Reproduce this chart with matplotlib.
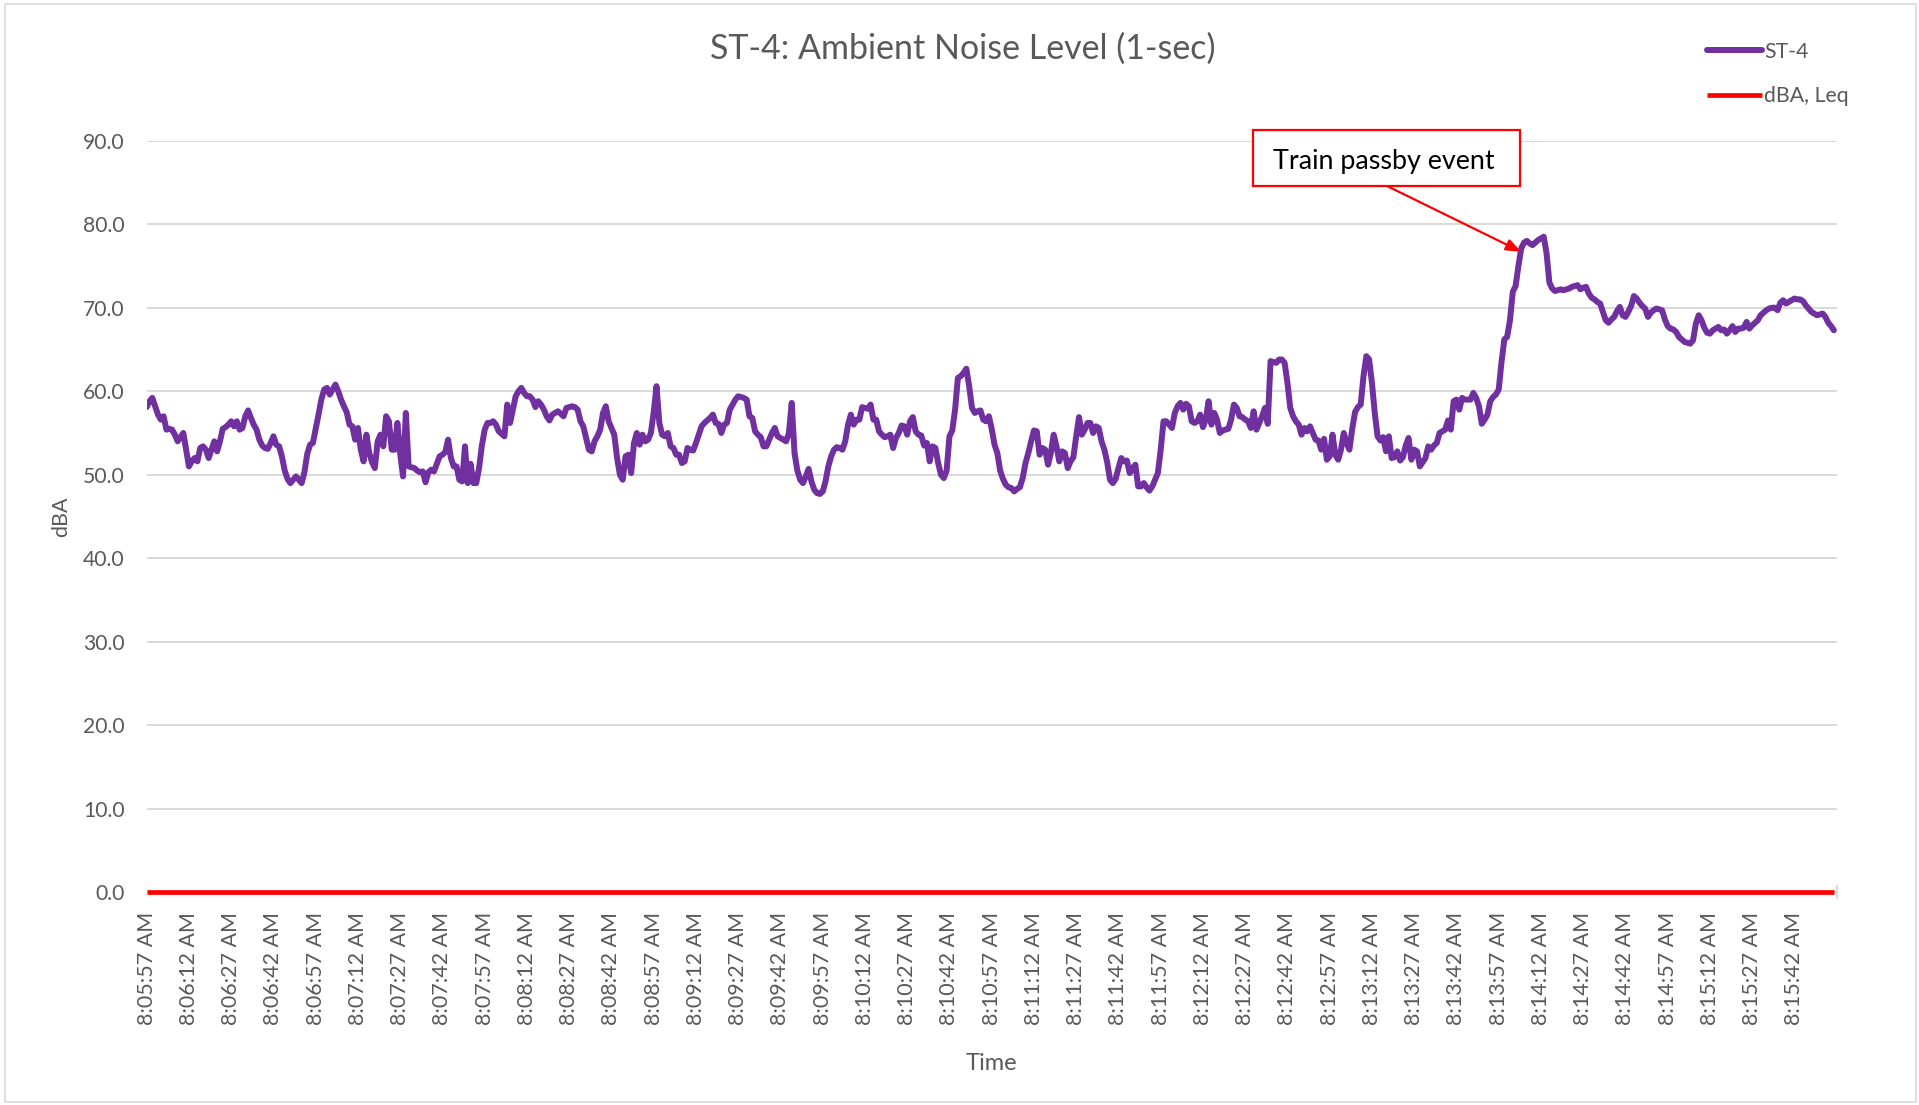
import matplotlib
matplotlib.use("Agg")
import matplotlib.pyplot as plt
from matplotlib.patches import Rectangle
import numpy as np

# ---------------- data ----------------
st4 = [
58.1, 58.8, 59.2, 58.2, 57.2, 56.6, 57.0, 55.4, 55.5, 55.4,
54.8, 54.0, 54.5, 55.0, 53.0, 51.0, 51.6, 52.0, 51.6, 53.2,
53.4, 53.0, 52.0, 53.0, 54.0, 52.8, 54.0, 55.5, 55.7, 56.0,
56.4, 55.8, 56.4, 55.4, 55.6, 57.0, 57.7, 56.8, 56.0, 55.4,
54.2, 53.5, 53.2, 53.1, 53.8, 54.6, 53.6, 53.4, 52.2, 50.5,
49.5, 49.0, 49.4, 49.8, 49.4, 49.0, 50.3, 52.5, 53.6, 53.8,
55.5, 57.2, 59.0, 60.2, 60.4, 59.6, 60.2, 60.8, 60.0, 59.0,
58.2, 57.5, 56.0, 55.8, 54.2, 55.6, 53.0, 51.6, 54.8, 52.6,
51.5, 50.8, 54.0, 54.8, 53.4, 57.0, 56.4, 53.0, 53.0, 56.2,
52.5, 49.8, 57.4, 51.0, 50.9, 50.8, 50.5, 50.3, 50.4, 49.1,
50.3, 50.6, 50.4, 51.3, 52.2, 52.4, 52.7, 54.2, 52.0, 51.0,
51.0, 49.4, 49.2, 53.4, 49.0, 51.3, 49.0, 49.0, 50.8, 53.5,
55.4, 56.2, 56.2, 56.4, 56.0, 55.2, 54.9, 54.6, 58.4, 56.2,
57.8, 59.4, 60.0, 60.4, 59.8, 59.4, 59.4, 59.0, 58.1, 58.8,
58.4, 57.8, 57.0, 56.5, 57.2, 57.4, 57.6, 57.3, 57.0, 58.0,
58.1, 58.2, 58.1, 57.8, 56.4, 55.8, 54.4, 53.0, 52.8, 54.0,
54.6, 55.4, 57.4, 58.2, 56.4, 55.6, 54.8, 52.0, 50.0, 49.4,
52.2, 52.4, 50.2, 53.8, 55.0, 53.6, 54.8, 54.0, 54.2, 55.0,
57.5, 60.6, 56.2, 54.8, 54.6, 55.0, 53.4, 53.2, 52.4, 52.4,
51.4, 51.6, 53.2, 53.0, 52.9, 53.8, 54.8, 55.8, 56.2, 56.5,
56.8, 57.2, 56.2, 56.1, 55.0, 56.0, 56.2, 57.8, 58.4, 59.0,
59.4, 59.3, 59.2, 59.0, 57.0, 56.8, 55.2, 54.8, 54.5, 53.4,
53.4, 54.2, 55.0, 55.6, 54.6, 54.4, 54.2, 54.0, 55.0, 58.6,
52.6, 50.5, 49.4, 49.0, 49.8, 50.7, 49.2, 48.2, 47.8, 47.7,
48.0, 49.2, 51.0, 52.2, 53.0, 53.3, 53.2, 53.0, 54.0, 56.0,
57.2, 56.0, 56.6, 56.6, 58.1, 58.0, 57.9, 58.4, 56.6, 56.6,
55.2, 54.8, 54.5, 54.6, 54.8, 53.2, 54.4, 55.0, 55.9, 55.8,
54.8, 56.4, 56.9, 55.2, 54.8, 54.7, 53.5, 53.8, 51.6, 53.4,
53.2, 51.4, 50.0, 49.6, 50.5, 54.6, 55.3, 57.8, 61.6, 61.8,
62.2, 62.7, 60.6, 58.0, 57.4, 57.6, 57.7, 56.6, 56.4, 57.0,
55.5, 53.6, 52.6, 50.5, 49.5, 48.8, 48.5, 48.4, 48.0, 48.3,
48.5, 49.6, 51.4, 52.6, 54.0, 55.3, 55.2, 52.4, 53.2, 53.0,
51.2, 52.6, 54.8, 53.4, 51.6, 52.8, 52.6, 50.8, 51.6, 52.1,
54.6, 56.9, 54.8, 55.4, 56.2, 56.2, 55.0, 55.8, 55.6, 54.0,
53.0, 51.5, 49.4, 49.0, 49.5, 50.8, 52.0, 51.6, 51.7, 50.2,
50.8, 51.2, 48.6, 48.6, 49.0, 48.5, 48.1, 48.6, 49.4, 50.2,
53.0, 56.4, 56.4, 56.0, 55.6, 57.4, 58.2, 58.6, 57.8, 58.5,
58.2, 56.4, 56.2, 56.4, 57.2, 55.7, 56.6, 58.8, 56.0, 57.4,
56.6, 55.0, 55.3, 55.4, 55.5, 56.6, 58.4, 58.0, 57.0, 56.9,
56.6, 56.4, 55.6, 57.6, 55.4, 56.2, 57.0, 58.0, 56.1, 63.6,
63.5, 63.4, 63.8, 63.8, 63.4, 61.0, 58.0, 57.0, 56.4, 56.0,
54.8, 55.6, 55.2, 55.8, 55.0, 54.2, 54.1, 53.0, 54.3, 51.8,
52.2, 54.8, 52.4, 51.8, 53.0, 55.0, 53.8, 53.0, 55.5, 57.5,
58.1, 58.4, 61.8, 64.2, 63.8, 61.0, 57.4, 54.6, 54.1, 54.5,
52.8, 54.6, 52.0, 52.1, 52.8, 51.7, 52.1, 53.5, 54.4, 51.8,
53.0, 52.8, 51.0, 51.5, 52.0, 53.4, 53.0, 53.5, 53.8, 55.0,
55.2, 55.4, 56.5, 55.4, 58.8, 59.0, 57.8, 59.2, 59.0, 59.0,
59.0, 59.8, 59.2, 58.2, 56.1, 56.6, 57.2, 58.8, 59.3, 59.6,
60.2, 63.5, 66.2, 66.5, 68.5, 71.9, 72.6, 75.0, 77.1, 77.8,
78.0, 77.7, 77.5, 77.8, 78.1, 78.3, 78.5, 76.5, 73.0, 72.3,
72.0, 72.1, 72.2, 72.1, 72.2, 72.3, 72.5, 72.6, 72.7, 72.2,
72.4, 72.5, 71.7, 71.2, 71.0, 70.7, 70.5, 69.5, 68.5, 68.2,
68.6, 68.9, 69.6, 70.1, 69.1, 68.9, 69.5, 70.2, 71.4, 71.1,
70.6, 70.2, 69.9, 68.9, 69.4, 69.7, 69.9, 69.8, 69.7, 68.6,
67.8, 67.5, 67.4, 67.1, 66.5, 66.2, 65.9, 65.8, 65.7, 66.1,
68.1, 69.1, 68.5, 67.6, 67.0, 66.9, 67.3, 67.5, 67.7, 67.3,
67.4, 66.9, 67.3, 67.8, 67.1, 67.5, 67.5, 67.6, 68.3, 67.5,
67.9, 68.2, 68.5, 69.1, 69.4, 69.7, 69.9, 70.0, 70.0, 69.7,
70.6, 70.9, 70.5, 70.7, 70.9, 71.1, 71.0, 71.0, 70.8, 70.3,
69.9, 69.5, 69.3, 69.1, 69.2, 69.3, 68.9, 68.2, 67.8, 67.3,
]
seconds = list(range(len(st4)))          # 1-sec samples from 8:05:57 AM
leq = [0.0] * len(st4)                    # "dBA, Leq" series

tick_labels = [
"8:05:57 AM", "8:06:12 AM", "8:06:27 AM", "8:06:42 AM", "8:06:57 AM",
"8:07:12 AM", "8:07:27 AM", "8:07:42 AM", "8:07:57 AM", "8:08:12 AM",
"8:08:27 AM", "8:08:42 AM", "8:08:57 AM", "8:09:12 AM", "8:09:27 AM",
"8:09:42 AM", "8:09:57 AM", "8:10:12 AM", "8:10:27 AM", "8:10:42 AM",
"8:10:57 AM", "8:11:12 AM", "8:11:27 AM", "8:11:42 AM", "8:11:57 AM",
"8:12:12 AM", "8:12:27 AM", "8:12:42 AM", "8:12:57 AM", "8:13:12 AM",
"8:13:27 AM", "8:13:42 AM", "8:13:57 AM", "8:14:12 AM", "8:14:27 AM",
"8:14:42 AM", "8:14:57 AM", "8:15:12 AM", "8:15:27 AM", "8:15:42 AM",
]
label_step = 15
tickmark_step = 60
y_ticks = [0, 10, 20, 30, 40, 50, 60, 70, 80, 90]

annot_text = "Train passby event"
annot_xy = (488, 76.7)

# ---------------- figure ----------------
plt.rcParams['font.family'] = ['Lato', 'DejaVu Sans']
W, H = 1919, 1105
fig = plt.figure(figsize=(W / 100, H / 100), dpi=100)
ax = fig.add_axes([146.7 / W, 1 - 892.3 / H, (1836.7 - 146.7) / W, (892.3 - 140.7) / H])

purple = '#7030A0'
red = '#FF0000'
gray_txt = '#595959'
grid_c = '#D9D9D9'

ax.plot(seconds, st4, color=purple, lw=4.3, solid_joinstyle='round',
        solid_capstyle='round', label='ST-4', zorder=3)
ax.plot(seconds, leq, color=red, lw=3.4, solid_capstyle='butt',
        label='dBA, Leq', zorder=4, clip_on=False)

ax.set_xlim(0, len(st4) - 1)
ax.set_ylim(0, 90)
ax.set_yticks(y_ticks)
ax.set_yticklabels([f"{v:.1f}" for v in y_ticks])
ax.yaxis.grid(True, color=grid_c, lw=1.4)
ax.set_axisbelow(True)

ax.set_xticks([i * label_step for i in range(len(tick_labels))])
ax.set_xticklabels(tick_labels, rotation=90)
ax.set_xticks(list(range(0, len(st4) + 1, tickmark_step)), minor=True)
ax.tick_params(axis='x', which='major', length=0, pad=14, labelsize=15.5, labelcolor=gray_txt)
ax.tick_params(axis='x', which='minor', length=10, width=1.3, color=grid_c, direction='inout')
ax.tick_params(axis='y', length=0, pad=16, labelsize=15.2, labelcolor=gray_txt)

for s in ['top', 'right', 'left']:
    ax.spines[s].set_visible(False)
ax.spines['bottom'].set_color(grid_c)

ax.set_ylabel('dBA', fontsize=15.5, color=gray_txt, labelpad=8)
ax.set_xlabel('Time', fontsize=17, color=gray_txt, labelpad=20)

fig.text(963 / W, 1 - 49 / H, 'ST-4: Ambient Noise Level (1-sec)', ha='center', va='center',
         fontsize=24.5, color=gray_txt)

leg = ax.legend(loc='upper left', bbox_to_anchor=(1698 / W, 1 - 33 / H), bbox_transform=fig.transFigure,
                frameon=False, fontsize=15.3, labelcolor=gray_txt, handlelength=2.6,
                handletextpad=0.1, labelspacing=1.15, borderaxespad=0)

# annotation box
bx0, by0, bx1, by1 = 1253, 130, 1520, 186
fig.patches.append(Rectangle((bx0 / W, 1 - by1 / H), (bx1 - bx0) / W, (by1 - by0) / H,
                             transform=fig.transFigure, facecolor='white', edgecolor=red, lw=1.6,
                             zorder=5))
fig.text((bx0 + bx1) / 2 / W - 3 / W, 1 - (by0 + by1 + 6) / 2 / H, annot_text, ha='center', va='center',
         fontsize=19.4, color='black', zorder=6)
ax.annotate('', xy=annot_xy, xycoords='data',
            xytext=(1387 / W, 1 - 186 / H), textcoords='figure fraction',
            arrowprops=dict(arrowstyle='-|>,head_length=0.9,head_width=0.35', color=red, lw=1.6,
                            shrinkA=0, shrinkB=0), zorder=6)

# chart border
fig.patches.append(Rectangle((5 / W, 3 / H), (W - 8) / W, (H - 7) / H, transform=fig.transFigure,
                             facecolor='none', edgecolor=grid_c, lw=1.2))

fig.savefig('out.png', dpi=100)
